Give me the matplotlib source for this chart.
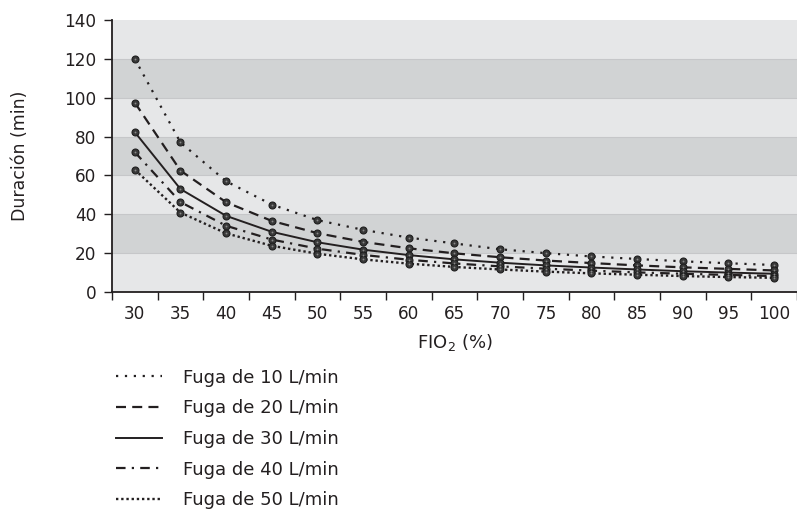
import matplotlib
matplotlib.use("Agg")
import matplotlib.pyplot as plt
import numpy as np

# FiO2 categories (%)
fio2 = [30, 35, 40, 45, 50, 55, 60, 65, 70, 75, 80, 85, 90, 95, 100]

# Duration (min) for each leak flow
fuga_10 = [120, 77, 57, 45, 37, 32, 28, 25, 22, 20, 18.3, 17, 15.8, 14.8, 13.9]
fuga_20 = [97.5, 62.5, 46.2, 36.6, 30.3, 25.8, 22.5, 19.9, 17.9, 16.2, 14.9, 13.7, 12.7, 11.9, 11.1]
fuga_30 = [82.3, 53, 39.2, 31, 25.6, 21.8, 19, 16.8, 15.1, 13.7, 12.6, 11.6, 10.7, 10, 9.4]
fuga_40 = [72, 46.3, 34.1, 27, 22.3, 19.1, 16.6, 14.7, 13.2, 12, 11, 10.1, 9.4, 8.8, 8.2]
fuga_50 = [63, 40.9, 30.2, 23.8, 19.7, 16.8, 14.6, 12.9, 11.6, 10.5, 9.6, 8.9, 8.2, 7.7, 7.3]

labels = ["Fuga de 10 L/min", "Fuga de 20 L/min", "Fuga de 30 L/min",
          "Fuga de 40 L/min", "Fuga de 50 L/min"]
y_ticks = [0, 20, 40, 60, 80, 100, 120, 140]

plt.rcParams['font.family'] = ['DejaVu Sans']

ink = '#231f20'
light_band = '#e6e7e8'
dark_band = '#d1d3d4'

fig = plt.figure(figsize=(7.97, 5.15), dpi=100)
ax = fig.add_axes([0.1405, 0.433, 0.8595, 0.528])

x = np.arange(len(fio2))

# alternating horizontal bands
for i, (lo, hi) in enumerate(zip(y_ticks[:-1], y_ticks[1:])):
    ax.axhspan(lo, hi, color=light_band if i % 2 == 0 else dark_band, zorder=0, lw=0)
for yv in y_ticks[1:-1]:
    ax.axhline(yv, color='#c6c7c9', lw=0.8, zorder=0.5)

styles = [
    dict(linestyle=(0, (1, 3)), lw=1.6),
    dict(linestyle=(0, (4.5, 2.8)), lw=1.6),
    dict(linestyle='-', lw=1.4),
    dict(linestyle=(0, (4.3, 2.8, 1, 2.8)), lw=1.6),
    dict(linestyle=(0, (1, 1.2)), lw=1.7),
]
series = [fuga_10, fuga_20, fuga_30, fuga_40, fuga_50]

handles = []
for vals, st, lab in zip(series, styles, labels):
    ax.plot(x, vals, color=ink, zorder=3, **st)
    ax.plot(x, vals, linestyle='none', marker='o', markersize=5.0,
            markerfacecolor='#3a3a3a', markeredgecolor='#1e1e1e',
            markeredgewidth=0.8, zorder=4)
    ax.plot(x, vals, linestyle='none', marker='o', markersize=1.3,
            markerfacecolor='#8a8a8a', markeredgewidth=0, zorder=5)
    h, = ax.plot([], [], color=ink, label=lab, **st)
    handles.append(h)

ax.set_xlim(-0.5, len(fio2) - 0.5)
ax.set_ylim(0, 140)
ax.set_yticks(y_ticks)
ax.set_xticks(x)
ax.set_xticklabels([str(v) for v in fio2])
ax.set_xticks(np.arange(-0.5, len(fio2) + 0.5, 1), minor=True)
ax.tick_params(axis='x', which='major', length=0, pad=9, labelsize=12.2, colors=ink)
ax.tick_params(axis='x', which='minor', length=6, width=1, color=ink, direction='out')
ax.tick_params(axis='y', length=6, width=1, color=ink, labelsize=12.2, labelcolor=ink, pad=5)

for s in ['top', 'right']:
    ax.spines[s].set_visible(False)
for s in ['left', 'bottom']:
    ax.spines[s].set_color(ink)
    ax.spines[s].set_linewidth(1.3)

ax.set_xlabel('FIO$_2$ (%)', fontsize=13, color=ink, labelpad=7)
ax.set_ylabel('Duración (min)', fontsize=12.5, color=ink, labelpad=0)
ax.yaxis.set_label_coords(-0.121, 0.5)

fig.legend(handles=handles, loc='upper left', bbox_to_anchor=(0.146, 0.284),
           frameon=False, fontsize=13, handlelength=2.5, handletextpad=1.2,
           labelspacing=0.7, borderpad=0, borderaxespad=0, labelcolor=ink)

fig.savefig('out.png', dpi=100)
